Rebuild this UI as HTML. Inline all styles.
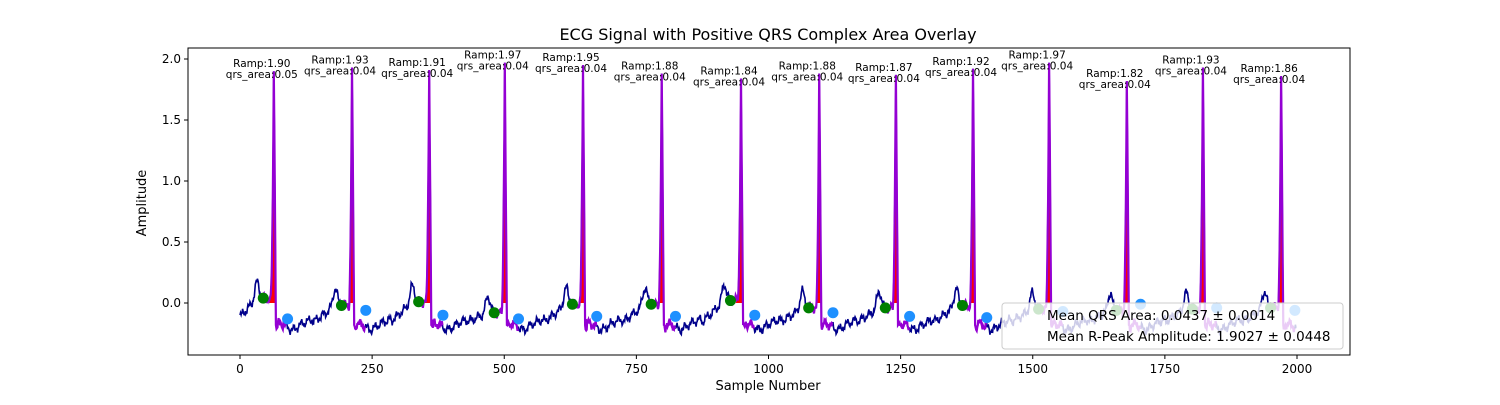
<!DOCTYPE html>
<html><head><meta charset="utf-8"><style>
body{margin:0;background:#fff;font-family:"Liberation Sans","DejaVu Sans",sans-serif}
</style></head><body>
<svg id="chart" width="1500" height="400" xmlns="http://www.w3.org/2000/svg" font-family="DejaVu Sans, Liberation Sans, sans-serif">
<text x="768" y="40" text-anchor="middle" font-size="16">ECG Signal with Positive QRS Complex Area Overlay</text>
<g id="plot"></g>
<text x="768" y="390" text-anchor="middle" font-size="13">Sample Number</text>
<text x="146" y="203" text-anchor="middle" font-size="13" transform="rotate(-90 146 203)">Amplitude</text>
</svg>
<script>
const peakSamples=[64,212,358,501,649,798,948,1096,1241,1387,1531,1678,1822,1970];
const peakAmps=[1.90,1.93,1.91,1.97,1.95,1.88,1.84,1.88,1.87,1.92,1.97,1.82,1.93,1.86];
const qrsAreas=["0.05","0.04","0.04","0.04","0.04","0.04","0.04","0.04","0.04","0.04","0.04","0.04","0.04","0.04"];
const onsetVals=[0.04,-0.02,0.01,-0.08,-0.01,-0.01,0.02,-0.04,-0.04,-0.02,-0.05,-0.06,-0.05,-0.04];
const offsetVals=[-0.13,-0.06,-0.10,-0.13,-0.11,-0.11,-0.10,-0.08,-0.11,-0.12,-0.07,-0.01,-0.04,-0.06];
const xTicks=[0,250,500,750,1000,1250,1500,1750,2000];
const yTicks=[0.0,0.5,1.0,1.5,2.0];
const legendLines=["Mean QRS Area: 0.0437 \u00b1 0.0014","Mean R-Peak Amplitude: 1.9027 \u00b1 0.0448"];

const L=188,R=1350,T=48,B=355;
const X=v=>240+v*(1297-240)/2000;
const Y=v=>303-v*122;
const NS="http://www.w3.org/2000/svg";
const plot=document.getElementById('plot');
function mk(t,a){const e=document.createElementNS(NS,t);for(const k in a)e.setAttribute(k,a[k]);return e;}

const N=2000,sig=[];
for(let i=0;i<N;i++){
  let k=0,best=1e9;peakSamples.forEach((p,j)=>{if(Math.abs(i-p)<best){best=Math.abs(i-p);k=j;}});
  let d=i-peakSamples[k];
  let v;
  const wig=0.025*Math.sin(i*0.45)+0.015*Math.sin(i*1.3+1)+0.01*Math.sin(i*2.7);
  if(d<0){
    const r=Math.max(0,Math.min(1,(d+75)/45));
    v=-0.16+r*(onsetVals[k]+0.16);
    v+=0.14*Math.exp(-Math.pow((d+32)/6,2));
  }else{
    v=-0.17-0.05*Math.exp(-Math.pow((d-35)/12,2))+0.0015*Math.max(0,d-50);
  }
  if(d>=-6&&d<=0) v+= (peakAmps[k]-v)*Math.pow((d+6)/6,2);
  if(d>0&&d<=4) v=peakAmps[k]*(1-d/4)+(-0.18)*(d/4);
  if(d>4&&d<=7) v=-0.2;
  if(d===0)v=peakAmps[k];
  sig.push(Math.abs(d)<=4?v:v+wig);
}
plot.appendChild(mk('rect',{x:L,y:T,width:R-L,height:B-T,fill:'none',stroke:'#000','stroke-width':1,}));
xTicks.forEach(t=>{const g=mk('g',{});
 g.appendChild(mk('line',{x1:X(t),x2:X(t),y1:B,y2:B+4,stroke:'#000'}));
 const tx=mk('text',{x:X(t),y:B+18,'text-anchor':'middle','font-size':12});tx.textContent=t;g.appendChild(tx);plot.appendChild(g);});
yTicks.forEach(t=>{const g=mk('g',{});
 g.appendChild(mk('line',{x1:L-4,x2:L,y1:Y(t),y2:Y(t),stroke:'#000'}));
 const tx=mk('text',{x:L-7,y:Y(t)+4,'text-anchor':'end','font-size':12});tx.textContent=t.toFixed(1);g.appendChild(tx);plot.appendChild(g);});
let dstr='';sig.forEach((v,i)=>{dstr+=(i?'L':'M')+X(i).toFixed(1)+' '+Y(v).toFixed(1);});
const line=mk('path',{d:dstr,fill:'none',stroke:'#00008b','stroke-width':1.6});
plot.appendChild(line);
peakSamples.forEach((p,k)=>{
  let f='M'+X(p-10)+' '+Y(0);
  for(let i=p-10;i<=p+4;i++)f+='L'+X(i).toFixed(1)+' '+Y(Math.max(0,sig[i])).toFixed(1);
  f+='L'+X(p+4)+' '+Y(0)+'Z';
  const fill=mk('path',{d:f,fill:'#ff0000'});
  plot.appendChild(fill);
  let q='';for(let i=p-20;i<=Math.min(N-1,p+25);i++)q+=(i===p-20?'M':'L')+X(i).toFixed(1)+' '+Y(sig[i]).toFixed(1);
  const ql=mk('path',{d:q,fill:'none',stroke:'#9400d3','stroke-width':2.2});
  plot.appendChild(ql);
  const g1=mk('circle',{cx:X(p-20),cy:Y(onsetVals[k]),r:5.5,fill:'#008000'});
  plot.appendChild(g1);
  const b1=mk('circle',{cx:X(p+26),cy:Y(offsetVals[k]),r:5.5,fill:'#1e90ff'});
  plot.appendChild(b1);
  const t1=mk('text',{x:X(p)-12,y:Y(peakAmps[k])-4,'text-anchor':'middle','font-size':10.5});t1.textContent='Ramp:'+peakAmps[k].toFixed(2);
  plot.appendChild(t1);
  const t2=mk('text',{x:X(p)-12,y:Y(peakAmps[k])+7,'text-anchor':'middle','font-size':10.5});t2.textContent='qrs_area:'+qrsAreas[k];
  plot.appendChild(t2);
});
const lg=mk('g',{});
lg.appendChild(mk('rect',{x:1002,y:303,width:341,height:46,rx:3,fill:'#fff','fill-opacity':0.8,stroke:'#ccc'}));
legendLines.forEach((s,i)=>{const t=mk('text',{x:1047,y:320+i*21,'font-size':13.5});t.textContent=s;
 lg.appendChild(t);});
plot.appendChild(lg);
</script>
</body></html>
